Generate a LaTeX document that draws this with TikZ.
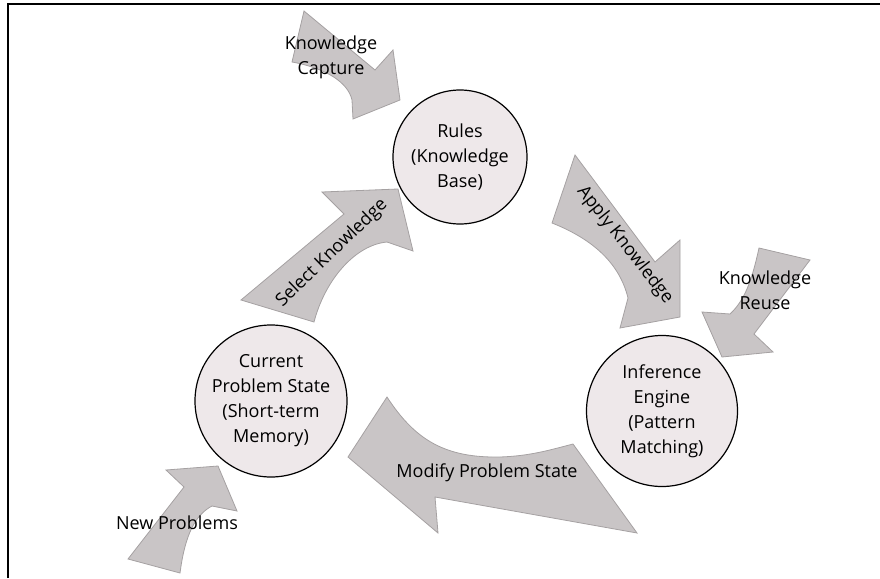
\documentclass[tikz,border=0pt]{standalone}
\usepackage{fontspec}
\setmainfont{Open Sans}
\begin{document}
\begin{tikzpicture}[x=1pt,y=-1pt,
  blockarrow/.style={fill=arrowfill,draw=arrowline,line width=0.8pt,line join=miter},
  circ/.style={circle,draw=black,line width=1.2pt,fill=circfill,inner sep=0pt,align=center,
     font=\fontsize{18}{25}\selectfont},
  lbl/.style={align=center,inner sep=0pt,font=\fontsize{18}{25}\selectfont}]
\definecolor{arrowfill}{RGB}{201,197,198}
\definecolor{arrowline}{RGB}{165,161,162}
\definecolor{circfill}{RGB}{238,232,234}
\useasboundingbox (0,0) rectangle (880,578);
% frame
\draw[line width=2.6pt] (8,578) -- (8,4) -- (880,4);
% circles
\node[circ,minimum size=134pt] (rules) at (460,157) {Rules\\(Knowledge\\Base)};
\node[circ,minimum size=151pt] (infer) at (662,411) {Inference\\Engine\\(Pattern\\Matching)};
\node[circ,minimum size=152pt] (curr) at (271,401) {Current\\Problem State\\(Short-term\\Memory)};
% Knowledge Capture
\draw[blockarrow] (304,11) -- (375,70) -- (393,50) -- (400,100) -- (353,119) -- (352,100)
   .. controls (348,82) and (325,68) .. (292,62) -- cycle;
% Apply Knowledge
\draw[blockarrow] (575,155) -- (655,262) -- (680,240) -- (680,317) -- (620,328) -- (628,298)
   .. controls (620,265) and (595,240) .. (552,223) -- cycle;
% Knowledge Reuse
\draw[blockarrow] (759,248) -- (810,260) -- (754,334) -- (773,352) -- (722,357) -- (702,312) -- (730,314)
   .. controls (745,300) and (752,280) .. (759,248) -- cycle;
% Modify Problem State
\draw[blockarrow] (387,397) .. controls (415,440) and (445,458) .. (500,457)
   .. controls (530,456) and (550,450) .. (573,444) -- (637,533) -- (435,497) -- (438,533) -- (348,457) -- cycle;
% New Problems
\draw[blockarrow] (128,559) -- (184,487) -- (166,470) -- (218,466) -- (237,511) -- (212,506)
   .. controls (195,515) and (185,535) .. (180,573) -- cycle;
% Select Knowledge
\draw[blockarrow] (241,300) -- (344,214) -- (322,192) -- (398,189) -- (413,251) -- (387,242)
   .. controls (355,245) and (325,280) .. (314,322) -- cycle;
% labels
\node[lbl] (lcap) at (331,57) {Knowledge\\Capture};
\node[lbl,rotate=-52] (lapply) at (625,245) {Apply Knowledge};
\node[lbl] (lreuse) at (765,290) {Knowledge\\Reuse};
\node[lbl] (lmod) at (487,473) {Modify Problem State};
\node[lbl] (lnew) at (177,523) {New Problems};
\node[lbl,rotate=44] (lsel) at (332,253) {Select Knowledge};
\end{tikzpicture}
\end{document}
